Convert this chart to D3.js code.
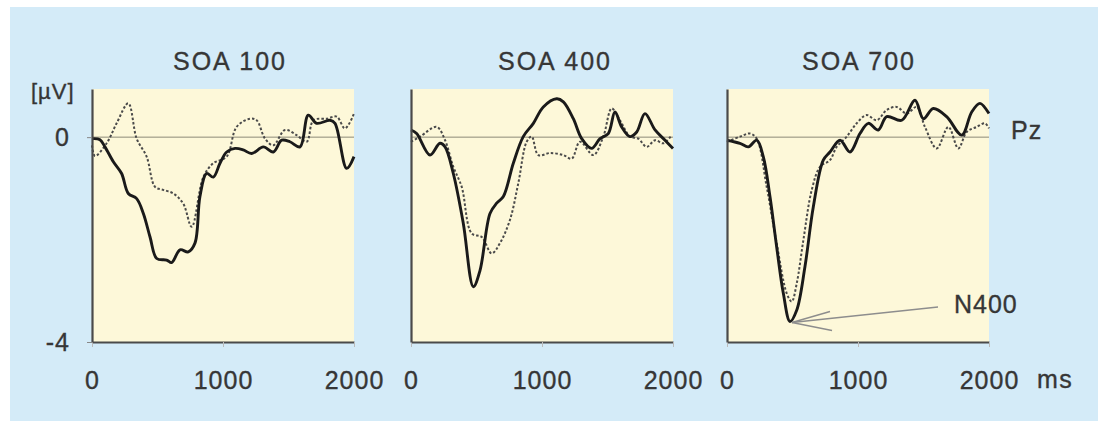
<!DOCTYPE html>
<html lang="en">
<head>
  <meta charset="UTF-8">
  <title>N400 SOA</title>
  <script src="https://d3js.org/d3.v7.min.js"></script>
  <style>
    body { margin: 0; background: #fff; }
    svg { display: block; }
    text { font-family: 'Liberation Sans', Arial, sans-serif; fill: #363636; stroke: #363636; stroke-width: 0.35px; }
  </style>
</head>
<body>
  <svg width="1102" height="421"></svg>
  <script>
    // time (ms) / amplitude (µV) pairs
    const titles = ["SOA 100", "SOA 400", "SOA 700"];
    const xTicks = [0, 1000, 2000];
    const yTicks = [-4, 0];

    const soa100Solid = [[0,-0.03],[61,-0.05],[99,-0.19],[163,-0.48],[226,-0.71],[277,-1.10],[341,-1.20],[392,-1.49],[443,-1.95],[494,-2.37],[570,-2.40],[608,-2.45],[672,-2.20],[735,-2.24],[786,-2.07],[824,-1.16],[875,-0.71],[926,-0.78],[977,-0.51],[1028,-0.29],[1092,-0.22],[1155,-0.25],[1219,-0.32],[1308,-0.19],[1384,-0.29],[1448,-0.06],[1511,-0.09],[1588,-0.19],[1651,0.43],[1715,0.27],[1817,0.33],[1855,0.27],[1944,-0.61],[2000,-0.38]];
    const soa100Dotted = [[0,-0.16],[23,-0.37],[112,-0.12],[188,0.27],[277,0.66],[341,-0.03],[417,-0.38],[481,-0.97],[544,-1.03],[621,-1.10],[697,-1.30],[761,-1.75],[850,-0.78],[926,-0.51],[1028,-0.38],[1104,0.20],[1206,0.36],[1257,0.33],[1321,-0.03],[1384,-0.16],[1473,0.14],[1562,0.04],[1639,-0.09],[1690,0.33],[1792,0.36],[1868,0.40],[1931,0.17],[2000,0.46]];

    const soa400Solid = [[0,0.14],[43,0.07],[145,-0.35],[221,-0.12],[260,-0.19],[323,-0.71],[399,-1.68],[476,-2.92],[527,-2.60],[603,-1.49],[654,-1.29],[705,-1.16],[781,-0.51],[857,0.01],[934,0.27],[1010,0.59],[1112,0.75],[1163,0.69],[1239,0.36],[1303,-0.03],[1379,-0.22],[1443,-0.03],[1506,0.07],[1557,0.49],[1608,0.20],[1672,0.01],[1723,0.10],[1786,0.46],[1863,0.14],[1939,-0.06],[2000,-0.22]];
    const soa400Dotted = [[0,-0.09],[69,0.01],[196,0.20],[260,-0.06],[323,-0.58],[387,-0.97],[463,-1.88],[540,-1.95],[616,-2.27],[679,-2.07],[756,-1.61],[819,-0.90],[883,-0.09],[921,0.01],[972,-0.35],[1061,-0.31],[1163,-0.35],[1227,-0.42],[1290,-0.09],[1392,-0.35],[1468,0.01],[1532,0.56],[1595,0.33],[1672,0.01],[1735,-0.03],[1799,-0.19],[1863,-0.06],[1926,-0.12],[1990,0.04]];

    const soa700Solid = [[0,-0.06],[99,-0.12],[163,-0.19],[227,-0.06],[277,-0.38],[328,-1.16],[379,-2.14],[430,-3.05],[481,-3.60],[532,-3.38],[595,-2.53],[659,-1.36],[735,-0.45],[786,-0.29],[863,-0.06],[939,-0.29],[1015,0.07],[1079,0.27],[1155,0.14],[1219,0.40],[1334,0.33],[1435,0.72],[1499,0.36],[1575,0.56],[1677,0.40],[1792,0.04],[1868,0.49],[1931,0.66],[2000,0.46]];
    const soa700Dotted = [[0,-0.09],[99,0.01],[176,0.07],[227,-0.03],[303,-0.97],[379,-2.07],[456,-3.05],[494,-3.21],[532,-2.86],[583,-2.01],[647,-1.03],[710,-0.58],[786,-0.45],[837,-0.19],[914,0.01],[990,0.27],[1066,0.43],[1143,0.33],[1219,0.53],[1295,0.59],[1372,0.46],[1448,0.59],[1511,0.20],[1601,-0.22],[1690,0.20],[1766,-0.22],[1830,0.10],[1906,0.20],[1969,0.27],[2000,0.17]];

    const panels = [
      { title: titles[0], solid: soa100Solid, dotted: soa100Dotted, left: 92, titleX: 230 },
      { title: titles[1], solid: soa400Solid, dotted: soa400Dotted, left: 411, titleX: 555 },
      { title: titles[2], solid: soa700Solid, dotted: soa700Dotted, left: 727, titleX: 859 }
    ];

    const svg = d3.select("svg");
    const plotTop = 89, pw = 262, ph = 253;

    // background
    svg.append("rect").attr("x", 10).attr("y", 7).attr("width", 1088).attr("height", 414).attr("fill", "#d4ebf8");

    const x = d3.scaleLinear().domain([0, 2000]).range([0, pw]);
    const y = d3.scaleLinear().domain([-4, 0.94]).range([ph, 0]);
    const line = d3.line().x(d => x(d[0])).y(d => y(d[1])).curve(d3.curveCatmullRom.alpha(0.5));

    panels.forEach((p, i) => {
      const g = svg.append("g").attr("transform", `translate(${p.left},${plotTop})`);

      g.append("rect").attr("width", pw).attr("height", ph).attr("fill", "#fdf8d9");

      g.append("line")
        .attr("x1", 0).attr("x2", pw)
        .attr("y1", y(0)).attr("y2", y(0))
        .attr("stroke", "#8c8a78").attr("stroke-width", 1);

      g.append("path").datum(p.dotted)
        .attr("d", line).attr("fill", "none")
        .attr("stroke", "#4a4a4a").attr("stroke-width", 2)
        .attr("stroke-dasharray", "2.5,2");

      g.append("path").datum(p.solid)
        .attr("d", line).attr("fill", "none")
        .attr("stroke", "#1a1a1a").attr("stroke-width", 2.9)
        .attr("stroke-linejoin", "round");

      const xAxis = g.append("g").attr("transform", `translate(0,${ph})`)
        .call(d3.axisBottom(x).tickValues(xTicks).tickSize(5).tickSizeOuter(0).tickPadding(24).tickFormat(d => String(d)));
      xAxis.select(".domain").attr("stroke", "#4a4a4a").attr("stroke-width", 2.2);
      xAxis.selectAll(".tick line").attr("stroke", "#bbb");

      const yAxis = g.append("g")
        .call(d3.axisLeft(y).tickValues(yTicks).tickSize(i === 0 ? 5 : 0).tickSizeOuter(0).tickPadding(17).tickFormat(d => String(d)));
      yAxis.select(".domain").attr("stroke", "#4a4a4a").attr("stroke-width", 2.2);
      yAxis.selectAll(".tick line").attr("stroke", "#888");
      if (i > 0) yAxis.selectAll(".tick text").remove();

      svg.selectAll(".tick text").attr("font-size", 25).attr("fill", "#363636")
        .style("font-family", "'Liberation Sans', Arial, sans-serif").style("letter-spacing", "1px");

      svg.append("text").attr("x", p.titleX).attr("y", 70)
        .attr("text-anchor", "middle").attr("font-size", 25).style("letter-spacing", "2px")
        .text(p.title);
    });

    // extra labels
    svg.append("text").attr("x", 31).attr("y", 99).attr("font-size", 22).style("letter-spacing", "1px").text("[µV]");
    svg.append("text").attr("x", 1037).attr("y", 388).attr("font-size", 25).style("letter-spacing", "1.5px").text("ms");
    svg.append("text").attr("x", 1011).attr("y", 139).attr("font-size", 25).style("letter-spacing", "1px").text("Pz");
    svg.append("text").attr("x", 954).attr("y", 313).attr("font-size", 25).style("letter-spacing", "1px").text("N400");

    // N400 arrow to the SOA 700 minimum
    const p3 = panels[2];
    const minPt = p3.solid.reduce((a, b) => (b[1] < a[1] ? b : a));
    const tipX = p3.left + x(minPt[0]) + 2, tipY = plotTop + y(minPt[1]) + 1;
    const arrow = svg.append("g").attr("stroke", "#8d8d8d").attr("stroke-width", 1.4).attr("fill", "none");
    arrow.append("line").attr("x1", 938).attr("y1", 307).attr("x2", tipX).attr("y2", tipY);
    arrow.append("line").attr("x1", tipX).attr("y1", tipY).attr("x2", tipX + 38).attr("y2", tipY - 11);
    arrow.append("line").attr("x1", tipX).attr("y1", tipY).attr("x2", tipX + 40).attr("y2", tipY + 8);
  </script>
</body>
</html>
